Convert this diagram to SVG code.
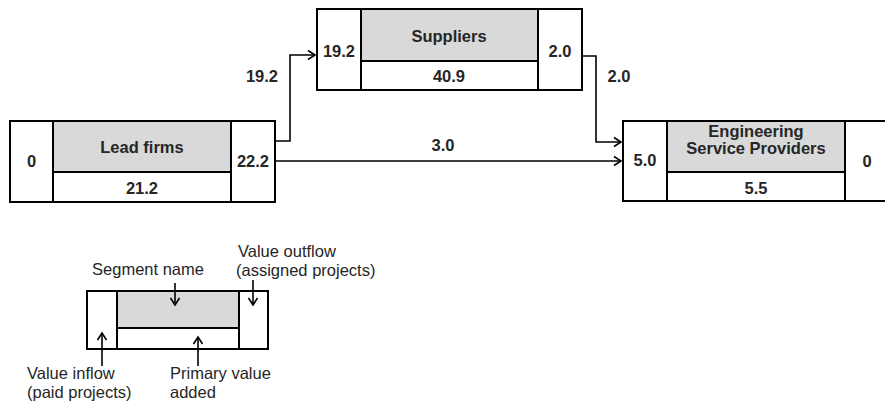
<svg xmlns="http://www.w3.org/2000/svg" width="885" height="403" viewBox="0 0 885 403">
<style>
.box{fill:#fff;stroke:#000;stroke-width:2}
.grey{fill:#d9d9d9;stroke:#000;stroke-width:2}
.ln{fill:none;stroke:#000;stroke-width:2}
.b{font-family:"Liberation Sans",Arial,sans-serif;font-weight:bold;font-size:16.5px;fill:#262626;text-anchor:middle}
.r{font-family:"Liberation Sans",Arial,sans-serif;font-size:16.5px;fill:#262626}
.con{fill:none;stroke:#000;stroke-width:1.6}
</style>
<defs>
<marker id="ah" markerUnits="userSpaceOnUse" markerWidth="12" markerHeight="12" refX="9" refY="6" orient="auto">
<path d="M2,1.5 L9,6 L2,10.5" fill="none" stroke="#000" stroke-width="1.6"/>
</marker>
</defs>
<rect width="885" height="403" fill="#fff"/>

<g id="connectors">
<path class="con" d="M275,141 H290 V55 H315" marker-end="url(#ah)"/>
<path class="con" d="M275,161 H621" marker-end="url(#ah)"/>
<path class="con" d="M582,56 H596 V142 H621" marker-end="url(#ah)"/>
<text class="b" x="262" y="82">19.2</text>
<text class="b" x="443" y="151">3.0</text>
<text class="b" x="619" y="82">2.0</text>
</g>

<g id="lead-firms">
<rect class="box" x="10" y="121" width="265" height="81"/>
<rect class="grey" x="53" y="121" width="178" height="51"/>
<line class="ln" x1="53" y1="172" x2="53" y2="202"/>
<line class="ln" x1="231" y1="172" x2="231" y2="202"/>
<text class="b" x="31.5" y="167">0</text>
<text class="b" x="142" y="153">Lead firms</text>
<text class="b" x="142" y="194">21.2</text>
<text class="b" x="253" y="167">22.2</text>
</g>

<g id="suppliers">
<rect class="box" x="317" y="9" width="265" height="81"/>
<rect class="grey" x="361" y="9" width="177" height="52"/>
<line class="ln" x1="361" y1="61" x2="361" y2="90"/>
<line class="ln" x1="538" y1="61" x2="538" y2="90"/>
<text class="b" x="449" y="42">Suppliers</text>
<text class="b" x="449" y="82">40.9</text>
<text class="b" x="339" y="57">19.2</text>
<text class="b" x="560" y="57">2.0</text>
</g>

<g id="engineering-service-providers">
<rect class="box" x="623" y="121" width="266" height="80"/>
<rect class="grey" x="667" y="121" width="178" height="51"/>
<line class="ln" x1="667" y1="172" x2="667" y2="201"/>
<line class="ln" x1="845" y1="172" x2="845" y2="201"/>
<text class="b" x="756" y="137">Engineering</text>
<text class="b" x="756" y="154">Service Providers</text>
<text class="b" x="756" y="194">5.5</text>
<text class="b" x="645" y="166">5.0</text>
<text class="b" x="867" y="167">0</text>
</g>

<g id="legend">
<rect class="box" x="87" y="291" width="181" height="58"/>
<rect class="grey" x="117" y="291" width="122" height="37"/>
<line class="ln" x1="117" y1="328" x2="117" y2="349"/>
<line class="ln" x1="239" y1="328" x2="239" y2="349"/>
<path class="con" d="M175,283 V305" marker-end="url(#ah)"/>
<path class="con" d="M253,280 V305" marker-end="url(#ah)"/>
<path class="con" d="M102,366 V333" marker-end="url(#ah)"/>
<path class="con" d="M198,366 V337" marker-end="url(#ah)"/>
<text class="r" x="148" y="275" text-anchor="middle">Segment name</text>
<text class="r" x="238" y="257">Value outflow</text>
<text class="r" x="236" y="276">(assigned projects)</text>
<text class="r" x="27" y="379">Value inflow</text>
<text class="r" x="27" y="398">(paid projects)</text>
<text class="r" x="170" y="379">Primary value</text>
<text class="r" x="170" y="398">added</text>
</g>
</svg>
